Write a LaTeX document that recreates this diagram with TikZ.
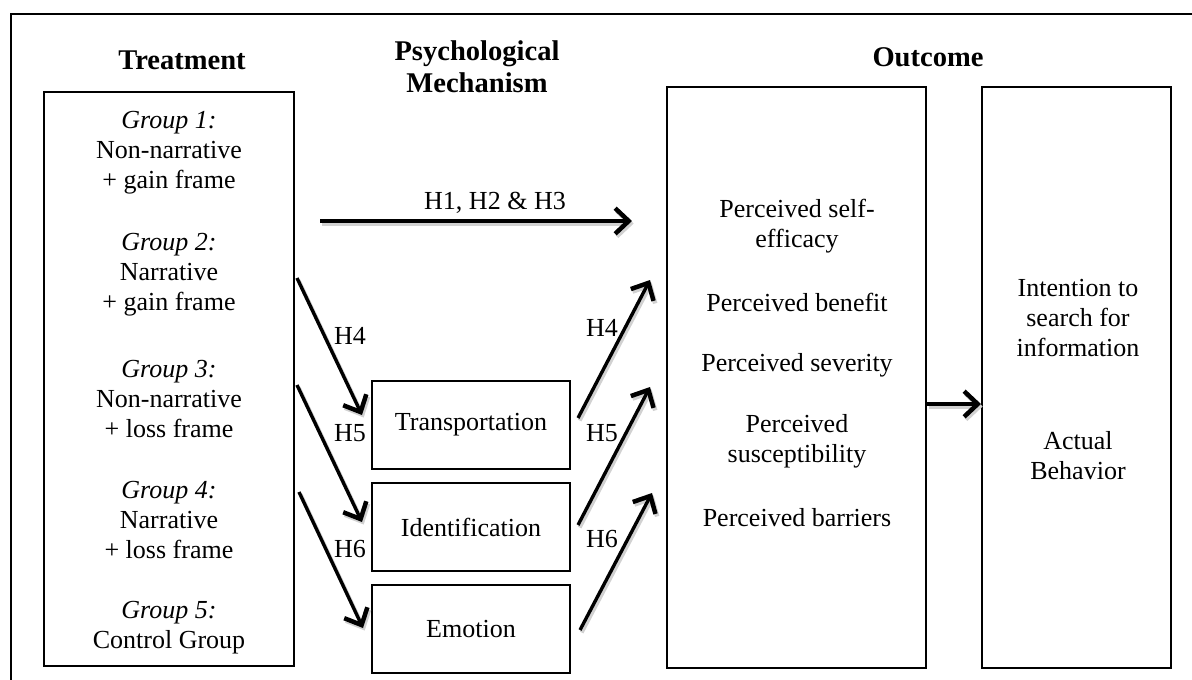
\documentclass[tikz,border=0pt]{standalone}
\usepackage{fontspec}
\setmainfont{Liberation Serif}
\usetikzlibrary{arrows.meta}

\tikzset{
  box/.style={draw, line width=1.4pt, inner sep=0pt},
  txt/.style={font=\fontsize{18.5}{21.3}\selectfont, align=center},
  head/.style={font=\fontsize{20.3}{22.7}\selectfont\bfseries, align=center},
  arr/.style={line width=2.4pt, -{Straight Barb[length=3.4mm,width=6.4mm,line width=3.2pt]},
    preaction={draw=black!18, line width=2.8pt, transform canvas={shift={(1.2pt,-1.8pt)}}}}
}

\begin{document}
\begin{tikzpicture}[x=0.025cm,y=-0.025cm]
\useasboundingbox (0,0) rectangle (1192,679);
\fill[white] (0,0) rectangle (1192,679);
\draw[line width=1.4pt] (11,14) rectangle (1210,700);

% headings
\node[head] (hTreat) at (182,60) {Treatment};
\node[head] (hMech) at (477,67) {Psychological\\Mechanism};
\node[head] (hOut) at (928,57) {Outcome};

% boxes
\node[box, minimum width=6.25cm, minimum height=14.35cm] (treat) at (169,379) {};
\node[box, minimum width=6.475cm, minimum height=14.525cm] (outc) at (796.5,377.5) {};
\node[box, minimum width=4.725cm, minimum height=14.525cm] (intent) at (1076.5,377.5) {};

\node[box, txt, minimum width=4.95cm, minimum height=2.2cm] (transp) at (471,425) {Transportation};
\node[box, txt, minimum width=4.95cm, minimum height=2.2cm] (ident) at (471,527) {Identification};
\node[box, txt, minimum width=4.95cm, minimum height=2.2cm] (emot) at (471,629) {Emotion};

% treatment groups
\node[txt] (g1) at (169,153) {\textit{Group 1:}\\Non-narrative\\+ gain frame};
\node[txt] (g2) at (169,275) {\textit{Group 2:}\\Narrative\\+ gain frame};
\node[txt] (g3) at (169,399) {\textit{Group 3:}\\Non-narrative\\+ loss frame};
\node[txt] (g4) at (169,520) {\textit{Group 4:}\\Narrative\\+ loss frame};
\node[txt] (g5) at (169,628) {\textit{Group 5:}\\Control Group};

% outcomes
\node[txt] (selfeff) at (797,226) {Perceived self-\\efficacy};
\node[txt] (benefit) at (797,302) {Perceived benefit};
\node[txt] (severity) at (797,365) {Perceived severity};
\node[txt] (suscept) at (797,441) {Perceived\\susceptibility};
\node[txt] (barriers) at (797,518) {Perceived barriers};

\node[txt] (intsearch) at (1078,318) {Intention to\\search for\\information};
\node[txt] (behav) at (1078,456) {Actual\\Behavior};

% arrow ends
\coordinate (a0) at (320,221);
\coordinate (b0) at (632,221);
\coordinate (a1) at (297,278);
\coordinate (a2) at (297,385);
\coordinate (a3) at (299,492);
\coordinate (b1) at (362,415);
\coordinate (b2) at (362,522);
\coordinate (b3) at (363,628);
\coordinate (c1) at (578,418);
\coordinate (c2) at (578,525);
\coordinate (c3) at (580,630);
\coordinate (d1) at (650,280);
\coordinate (d2) at (650,387);
\coordinate (d3) at (652,493);

\draw[arr] (a0) -- (b0);
\node[txt] (lH123) at (495,203) {H1, H2 \& H3};

\draw[arr] (a1) -- (b1);
\draw[arr] (a2) -- (b2);
\draw[arr] (a3) -- (b3);
\node[txt] (lH4a) at (350,336) {H4};
\node[txt] (lH5a) at (350,433) {H5};
\node[txt] (lH6a) at (350,549) {H6};

\draw[arr] (c1) -- (d1);
\draw[arr] (c2) -- (d2);
\draw[arr] (c3) -- (d3);
\node[txt] (lH4b) at (602,328) {H4};
\node[txt] (lH5b) at (602,433) {H5};
\node[txt] (lH6b) at (602,539) {H6};

\draw[arr] (outc.east |- 0,404) -- (intent.west |- 0,404);
\end{tikzpicture}
\end{document}
